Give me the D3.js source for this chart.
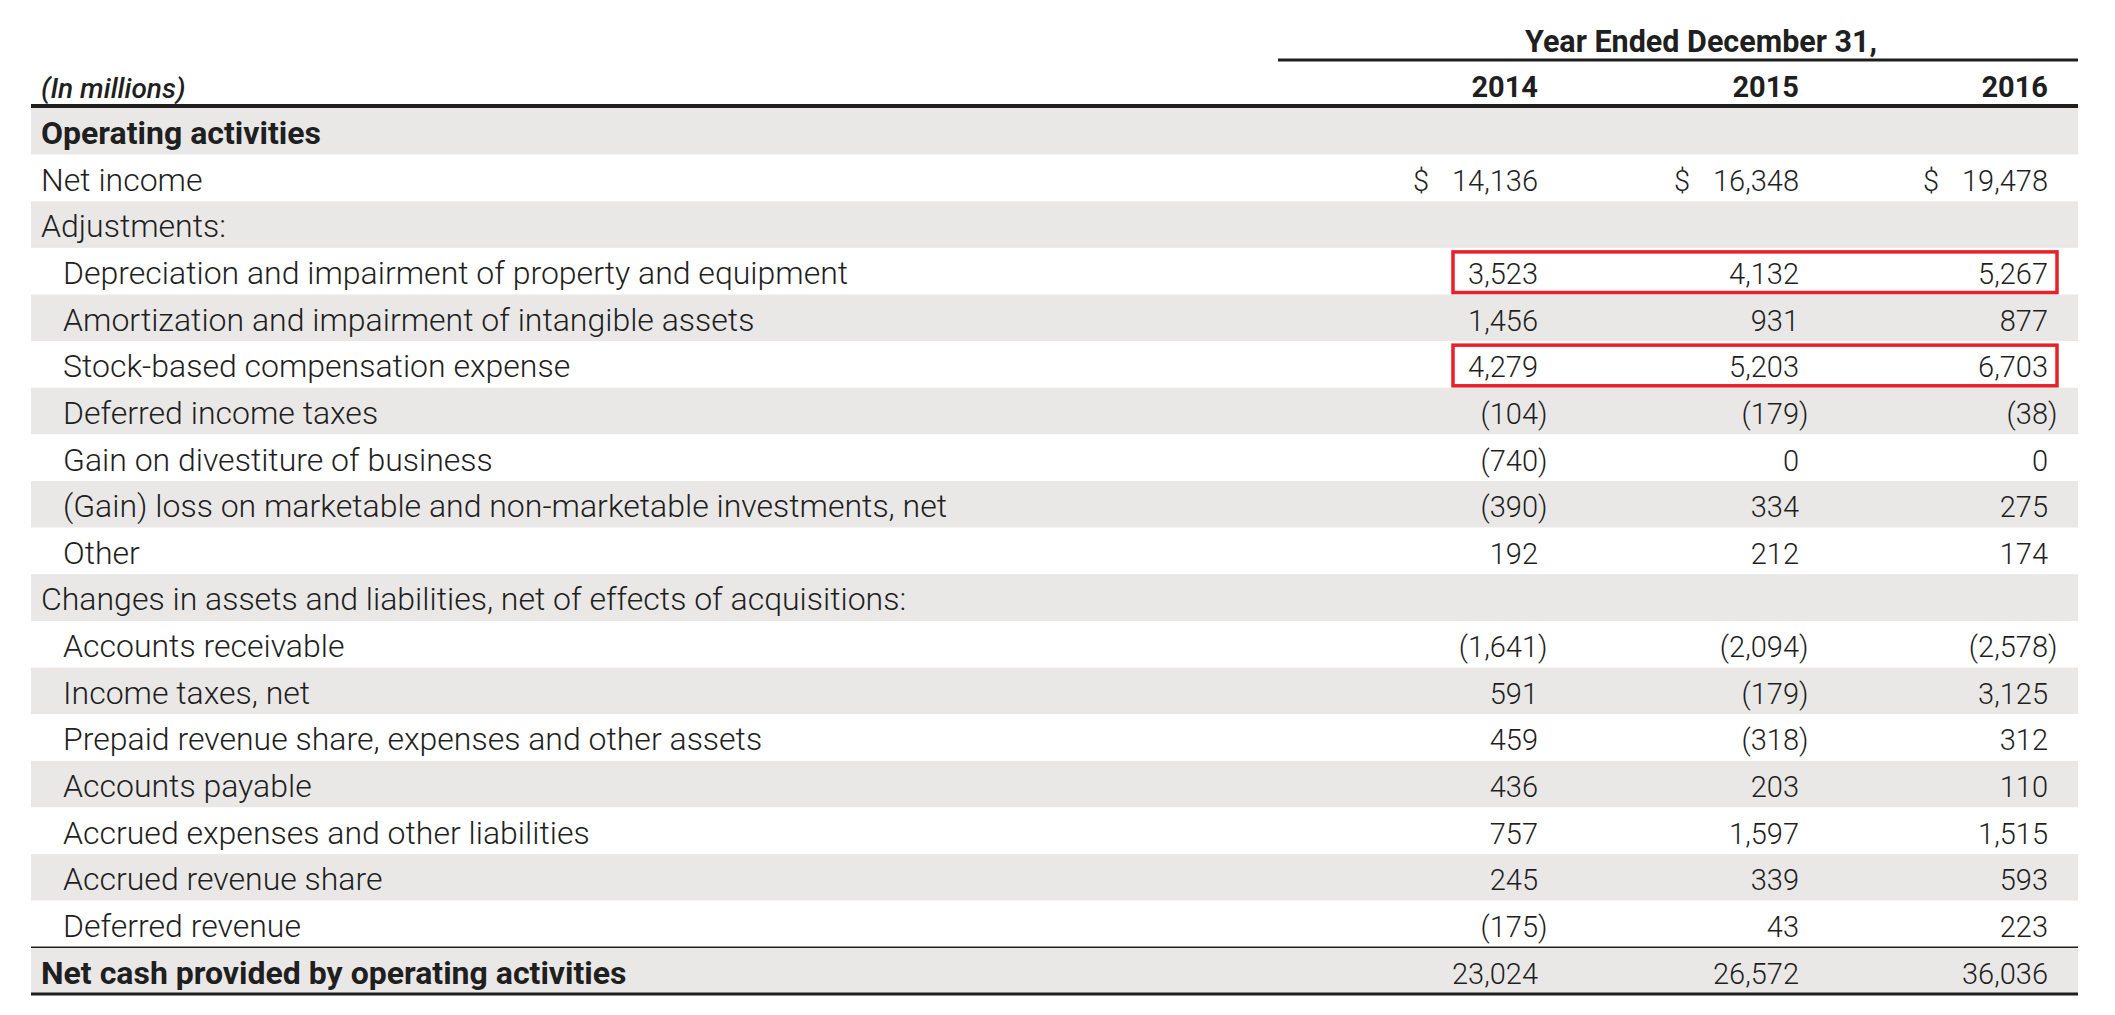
<!DOCTYPE html>
<html>
<head>
<meta charset="utf-8">
<script src="https://cdn.jsdelivr.net/npm/d3@7"></script>
<style>
  body { margin: 0; background: #fff; }
  svg text { font-family: Roboto, "Noto Sans", sans-serif; fill: #1f1f1f; }
</style>
</head>
<body>
<div class="canvas"></div>
<script>
// ---- data ----
const years = ['2014', '2015', '2016'];

const rowLabels = [
    'Operating activities',
    'Net income',
    'Adjustments:',
    'Depreciation and impairment of property and equipment',
    'Amortization and impairment of intangible assets',
    'Stock-based compensation expense',
    'Deferred income taxes',
    'Gain on divestiture of business',
    '(Gain) loss on marketable and non-marketable investments, net',
    'Other',
    'Changes in assets and liabilities, net of effects of acquisitions:',
    'Accounts receivable',
    'Income taxes, net',
    'Prepaid revenue share, expenses and other assets',
    'Accounts payable',
    'Accrued expenses and other liabilities',
    'Accrued revenue share',
    'Deferred revenue',
    'Net cash provided by operating activities'
];

// indent level of each row label (0 = flush, 1 = indented)
const rowLevels = [0, 0, 0, 1, 1, 1, 1, 1, 1, 1, 0, 1, 1, 1, 1, 1, 1, 1, 0];

// null = no value in that row
const values2014 = [null, 14136, null, 3523, 1456, 4279, -104, -740, -390, 192, null, -1641, 591, 459, 436, 757, 245, -175, 23024];
const values2015 = [null, 16348, null, 4132, 931, 5203, -179, 0, 334, 212, null, -2094, -179, -318, 203, 1597, 339, 43, 26572];
const values2016 = [null, 19478, null, 5267, 877, 6703, -38, 0, 275, 174, null, -2578, 3125, 312, 110, 1515, 593, 223, 36036];

const boldRows = ['Operating activities', 'Net cash provided by operating activities'];
const dollarRows = ['Net income'];
const highlightRows = ['Depreciation and impairment of property and equipment', 'Stock-based compensation expense'];

const columns = [values2014, values2015, values2016];

// ---- layout ----
const dims = { width: 2115, height: 1015 };
const table = { left: 31, right: 2078, top: 108, bottom: 994 };
const labelSize = 32;   // row labels
const numSize = 29;     // figures and years

const svg = d3.select('.canvas')
    .append('svg')
    .attr('width', dims.width)
    .attr('height', dims.height);

// rows top -> bottom
const y = d3.scaleBand()
    .domain(d3.range(rowLabels.length))
    .range([table.top, table.bottom]);

// right edge of each year's numbers
const x = d3.scaleOrdinal()
    .domain(years)
    .range([1538, 1799, 2048]);

const fmt = d3.format(',');

// striped background
svg.append('g')
    .selectAll('rect')
    .data(rowLabels)
    .join('rect')
    .attr('x', table.left)
    .attr('y', (d, i) => y(i))
    .attr('width', table.right - table.left)
    .attr('height', y.bandwidth())
    .attr('fill', (d, i) => i % 2 === 0 ? '#e9e8e6' : '#fff');

// header
svg.append('text')
    .attr('x', 1701)
    .attr('y', 52)
    .attr('text-anchor', 'middle')
    .attr('font-size', 30.5)
    .attr('font-weight', 700)
    .text('Year Ended December 31,');

svg.append('line')
    .attr('x1', 1278).attr('x2', table.right)
    .attr('y1', 60).attr('y2', 60)
    .attr('stroke', '#1f1f1f').attr('stroke-width', 3);

svg.append('text')
    .attr('x', 41)
    .attr('y', 98)
    .attr('font-size', 28)
    .attr('font-style', 'italic')
    .attr('font-weight', 500)
    .text('(In millions)');

svg.append('g')
    .selectAll('text')
    .data(years)
    .join('text')
    .attr('x', d => x(d))
    .attr('y', 97)
    .attr('text-anchor', 'end')
    .attr('font-size', numSize)
    .attr('font-weight', 700)
    .text(d => d);

svg.append('line')
    .attr('x1', table.left).attr('x2', table.right)
    .attr('y1', 106).attr('y2', 106)
    .attr('stroke', '#1f1f1f').attr('stroke-width', 4);

// row labels
const baseline = i => y(i) + y.bandwidth() * 0.775;

svg.append('g')
    .selectAll('text')
    .data(rowLabels)
    .join('text')
    .attr('x', (d, i) => rowLevels[i] ? 63 : 41)
    .attr('y', (d, i) => baseline(i))
    .attr('font-size', labelSize)
    .attr('font-weight', d => boldRows.includes(d) ? 700 : 300)
    .text(d => d);

// values
const cells = [];
years.forEach((yr, c) => {
    columns[c].forEach((v, i) => {
        if (v !== null) cells.push({ yr, i, v, label: rowLabels[i] });
    });
});

const cellG = svg.append('g')
    .selectAll('g')
    .data(cells)
    .join('g')
    .attr('font-size', numSize)
    .attr('font-weight', 300);

cellG.each(function (d) {
    const g = d3.select(this);
    const xr = x(d.yr);
    const yb = baseline(d.i);
    const num = g.append('text')
        .attr('x', xr)
        .attr('y', yb)
        .attr('text-anchor', 'end')
        .text(fmt(Math.abs(d.v)));
    // negatives: parentheses, closing one hangs past the column edge
    if (d.v < 0) {
        const w = num.node().getComputedTextLength();
        g.append('text').attr('x', xr).attr('y', yb).text(')');
        g.append('text').attr('x', xr - w).attr('y', yb).attr('text-anchor', 'end').text('(');
    }
    if (dollarRows.includes(d.label)) {
        g.append('text').attr('x', xr - 125).attr('y', yb).text('$');
    }
});

// total rules
const last = rowLabels.length - 1;
svg.append('line')
    .attr('x1', table.left).attr('x2', table.right)
    .attr('y1', y(last)).attr('y2', y(last))
    .attr('stroke', '#1f1f1f').attr('stroke-width', 1.5);

svg.append('line')
    .attr('x1', table.left).attr('x2', table.right)
    .attr('y1', table.bottom).attr('y2', table.bottom)
    .attr('stroke', '#1f1f1f').attr('stroke-width', 3);

// red highlight boxes
svg.append('g')
    .selectAll('rect')
    .data(highlightRows)
    .join('rect')
    .attr('x', x(years[0]) - 85)
    .attr('y', d => y(rowLabels.indexOf(d)) + 4)
    .attr('width', x(years[2]) + 9 - (x(years[0]) - 85))
    .attr('height', y.bandwidth() - 6)
    .attr('fill', 'none')
    .attr('stroke', '#e8202a')
    .attr('stroke-width', 3.5);
</script>
</body>
</html>
